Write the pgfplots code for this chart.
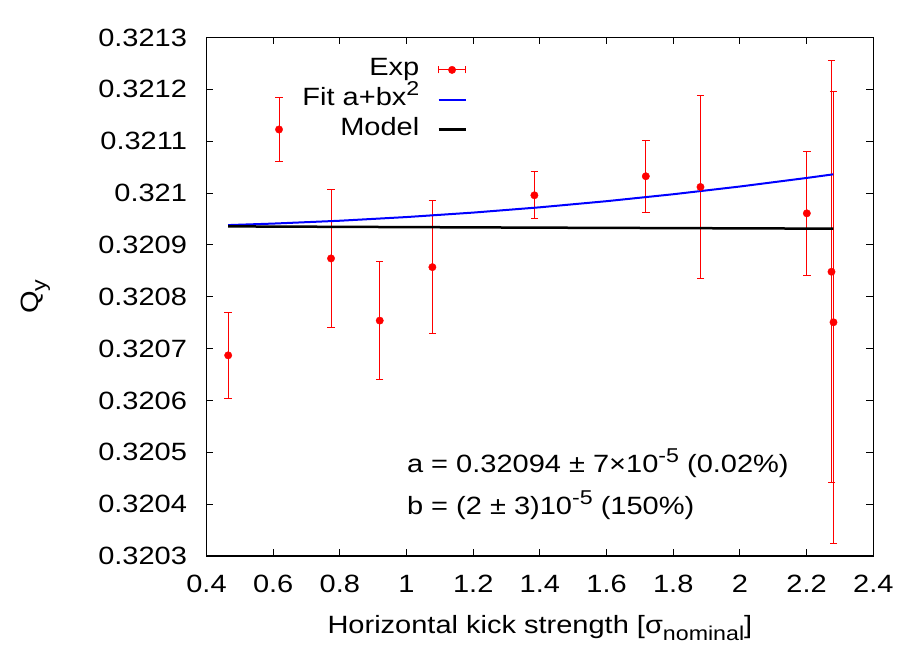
\documentclass[border=0pt]{standalone}
\usepackage{pgfplots}
\pgfplotsset{compat=1.18}
\usepackage{pgfplotstable}
\usepackage{fontspec}
\setmainfont{Liberation Sans}[FakeStretch=1.16]
\newcommand{\sups}[1]{\raisebox{0.42em}{\fontsize{20bp}{20bp}\selectfont #1}}
\newcommand{\subs}[1]{\raisebox{-0.3em}{\fontsize{20bp}{20bp}\selectfont #1}}

\pgfplotstableread{
x y ep em
0.4650 0.3206870 0.0000831 0.0000831
0.6175 0.3211226 0.0000609 0.0000609
0.7735 0.3208739 0.0001339 0.0001339
0.9196 0.3207540 0.0001143 0.0001143
1.0775 0.3208571 0.0001285 0.0001285
1.3835 0.3209957 0.0000450 0.0000450
1.7177 0.3210324 0.0000696 0.0000696
1.8816 0.3210117 0.0001768 0.0001768
2.2007 0.3209609 0.0001200 0.0001200
2.2746 0.3208482 0.0004070 0.0004070
2.2806 0.3207508 0.0004450 0.0004270
}\expdata

\pgfplotstableread{
x y
0.465 0.3209382
0.600 0.3209411
0.800 0.3209466
1.000 0.3209537
1.200 0.3209623
1.400 0.3209725
1.600 0.3209843
1.800 0.3209977
2.000 0.3210126
2.200 0.3210291
2.280 0.3210361
}\fitdata

\pgfplotstableread{
x y
0.465 0.3209357
1.380 0.3209333
2.280 0.3209313
}\modeldata

\begin{document}
\fontsize{25bp}{30bp}\selectfont
\begin{tikzpicture}
\begin{axis}[
  at={(0,0)}, anchor=south west,
  scale only axis,
  width=666.8bp, height=518.5bp,
  xmin=0.4, xmax=2.4, ymin=0.3203, ymax=0.3213,
  xtick={0.4,0.6,0.8,1.0,1.2,1.4,1.6,1.8,2.0,2.2,2.4},
  xticklabels={0.4,0.6,0.8,1,1.2,1.4,1.6,1.8,2,2.2,2.4},
  ytick={0.3203,0.3204,0.3205,0.3206,0.3207,0.3208,0.3209,0.3210,0.3211,0.3212,0.3213},
  yticklabels={0.3203,0.3204,0.3205,0.3206,0.3207,0.3208,0.3209,0.321,0.3211,0.3212,0.3213},
  scaled y ticks=false, scaled x ticks=false,
  tick align=inside,
  major tick length=7bp,
  every tick/.style={black, line width=1bp},
  axis line style={line width=1.3bp},
  yticklabel style={xshift=-11bp},
  xticklabel style={yshift=-11bp},
  xlabel={Horizontal kick strength [σ\subs{nominal}]},
  ylabel={Q\subs{y}},
  xlabel style={at={(axis description cs:0.5,0)}, anchor=center, yshift=-72bp},
  ylabel style={at={(axis description cs:0,0.5)}, anchor=center, xshift=0bp, yshift=171bp},
  legend cell align=right,
  legend plot pos=right,
  legend style={draw=none, fill=none, at={(rel axis cs:0.3907,0.9649)}, anchor=north east,
    inner sep=0pt, row sep=1.7bp,
    nodes={inner sep=0pt, text height=20bp, text depth=8bp},
    /tikz/every odd column/.append style={column sep=18bp}},
]
\addplot[red, only marks, mark=*, mark size=3.7bp, forget plot,
  error bars/.cd, y dir=both, y explicit,
  error bar style={draw=red, color=red, line width=1bp},
  error mark options={rotate=90, mark size=3.7bp, line width=1bp, draw=red, color=red},
  ]
  table[x=x, y=y, y error plus=ep, y error minus=em]{\expdata};
\addlegendimage{legend image code/.code={
  \draw[red, line width=0.9bp] (0bp,0bp)--(27bp,0bp) (0bp,-3.5bp)--(0bp,3.5bp) (27bp,-3.5bp)--(27bp,3.5bp);
  \fill[red] (13.5bp,0bp) circle (3.7bp);}}
\addlegendentry{Exp}
\addplot[blue, line width=2bp, forget plot] table[x=x,y=y]{\fitdata};
\addlegendimage{legend image code/.code={\draw[blue, line width=2bp] (0bp,0bp)--(27bp,0bp);}}
\addlegendentry{Fit a+bx\sups{2}}
\addplot[black, line width=2.5bp, forget plot] table[x=x,y=y]{\modeldata};
\addlegendimage{legend image code/.code={\draw[black, line width=2.5bp] (0bp,0bp)--(27bp,0bp);}}
\addlegendentry{Model}
\node[anchor=base west] at (rel axis cs:0.288,0.1602) {a = 0.32094 ± 7×10\sups{-5} (0.02\%)};
\node[anchor=base west] at (rel axis cs:0.288,0.0791) {b = (2 ± 3)10\sups{-5} (150\%)};
\node[anchor=base east, inner sep=0pt] at (rel axis cs:1,1) [yshift=6.5bp] {LHCB1, β*=0.6 m};
\end{axis}
\pgfresetboundingbox
\useasboundingbox (-206.5bp,-90bp) rectangle (703.5bp,556bp);
\end{tikzpicture}
\end{document}
